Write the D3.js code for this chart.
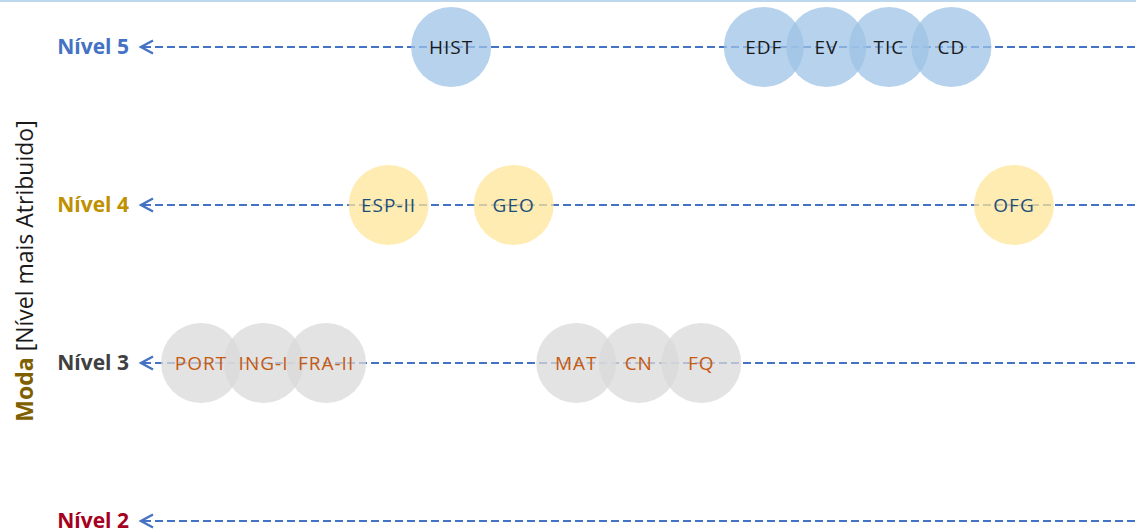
<!DOCTYPE html>
<html>
<head>
<meta charset="utf-8">
<script src="https://cdn.jsdelivr.net/npm/d3@7"></script>
<style>
  body { margin: 0; background: #fff; }
  svg { display: block; font-family: "Open Sans", "Noto Sans", sans-serif; }
</style>
</head>
<body>
<div id="chart"></div>
<script>
// subjects in x order, and the mode (most attributed level) for each
const subjects = ["PORT", "ING-I", "FRA-II", "ESP-II", "HIST", "GEO", "MAT", "CN", "FQ", "EDF", "EV", "TIC", "CD", "OFG"];
const modes = [3, 3, 3, 4, 5, 4, 3, 3, 3, 5, 5, 5, 5, 4];
const levels = [5, 4, 3, 2];
const levelLabels = ["Nível 5", "Nível 4", "Nível 3", "Nível 2"];

const width = 1136;
const height = 529;

// colours per level
const labelColor = { 5: "#4472c4", 4: "#bf9000", 3: "#404040", 2: "#a50021" };
const bubbleFill = { 5: "#9dc3e6", 4: "#ffe699", 3: "#d9d9d9" };
const bubbleText = { 5: "#1a1a1a", 4: "#1f4e79", 3: "#c55a11" };

const svg = d3.select("#chart")
  .append("svg")
  .attr("width", width)
  .attr("height", height);

// thin border at the top
svg.append("line")
  .attr("x1", 0).attr("x2", width)
  .attr("y1", 1).attr("y2", 1)
  .attr("stroke", "#bdd7ee")
  .attr("stroke-width", 2);

const x = d3.scalePoint()
  .domain(subjects)
  .range([201, 1014]);

const y = d3.scaleLinear()
  .domain([5, 2])
  .range([47, 521]);

const r = 40;
const arrowX = 141;

// dashed level lines
svg.selectAll(".level-line")
  .data(levels)
  .enter()
  .append("line")
  .attr("class", "level-line")
  .attr("x1", arrowX + 2)
  .attr("x2", width)
  .attr("y1", d => y(d))
  .attr("y2", d => y(d))
  .attr("stroke", "#4472c4")
  .attr("stroke-width", 2.2)
  .attr("stroke-dasharray", "8,4");

// open arrow heads pointing at the labels
svg.selectAll(".level-arrow")
  .data(levels)
  .enter()
  .append("path")
  .attr("class", "level-arrow")
  .attr("d", d => `M${arrowX + 12},${y(d) - 6.5} L${arrowX},${y(d)} L${arrowX + 12},${y(d) + 6.5}`)
  .attr("fill", "none")
  .attr("stroke", "#4472c4")
  .attr("stroke-width", 2.4)
  .attr("stroke-linejoin", "miter");

// level labels
svg.selectAll(".level-label")
  .data(levels)
  .enter()
  .append("text")
  .attr("class", "level-label")
  .attr("x", 129)
  .attr("y", d => y(d))
  .attr("dy", "0.35em")
  .attr("text-anchor", "end")
  .style("font-size", "21px")
  .style("font-weight", "bold")
  .attr("fill", d => labelColor[d])
  .text((d, i) => levelLabels[i]);

// bubbles
const data = subjects.map((s, i) => ({ subject: s, mode: modes[i] }));

svg.selectAll(".bubble")
  .data(data)
  .enter()
  .append("circle")
  .attr("class", "bubble")
  .attr("cx", d => x(d.subject))
  .attr("cy", d => y(d.mode))
  .attr("r", r)
  .attr("fill", d => bubbleFill[d.mode])
  .attr("fill-opacity", 0.75);

svg.selectAll(".bubble-label")
  .data(data)
  .enter()
  .append("text")
  .attr("class", "bubble-label")
  .attr("x", d => x(d.subject))
  .attr("y", d => y(d.mode))
  .attr("dy", "0.36em")
  .attr("text-anchor", "middle")
  .style("font-size", "19px")
  .style("letter-spacing", "1px")
  .attr("fill", d => bubbleText[d.mode])
  .text(d => d.subject);

// y axis title
const title = svg.append("text")
  .attr("transform", "translate(33, 271) rotate(-90)")
  .attr("text-anchor", "middle")
  .style("font-size", "23px");
title.append("tspan")
  .attr("fill", "#7f6000")
  .style("font-weight", "bold")
  .text("Moda");
title.append("tspan")
  .attr("fill", "#1a1a1a")
  .text(" [Nível mais Atribuido]");
</script>
</body>
</html>
